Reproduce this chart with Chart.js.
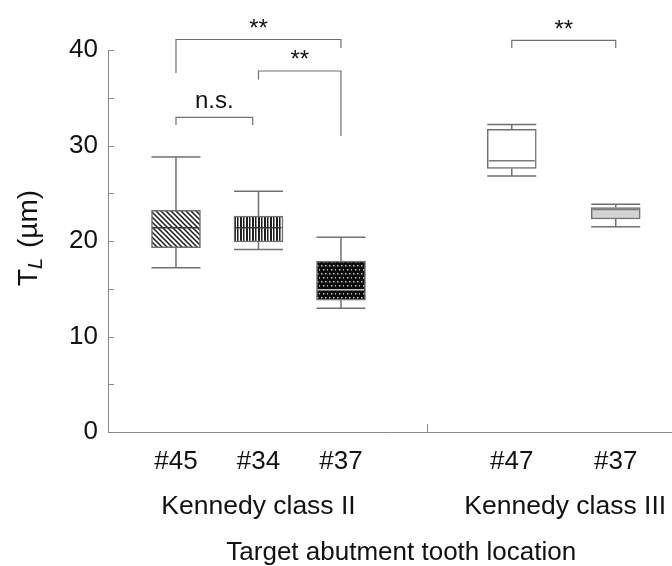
<!DOCTYPE html>
<html>
<head>
<meta charset="utf-8">
<script src="https://cdn.jsdelivr.net/npm/chart.js@4.4.1/dist/chart.umd.min.js"></script>
<style>
  html, body { margin: 0; padding: 0; background: #ffffff; }
  #wrap { width: 672px; height: 566px; }
</style>
</head>
<body>
<div id="wrap"><canvas id="chart" width="672" height="566"></canvas></div>
<script>
// Tooth locations and their place on the horizontal axis
const toothLabels    = ['#45', '#34', '#37', '#47', '#37'];
const toothPositions = [1, 2, 3, 5.07, 6.33];

// Box plot summary of T_L (µm) per tooth location
const whiskerLow  = [17.2, 19.1, 12.95, 26.8, 21.5];
const quartile1   = [19.3, 19.9, 13.8, 27.6, 22.3];
const medians     = [21.4, 21.4, 14.9, 28.4, 23.3];
const quartile3   = [23.2, 22.6, 17.9, 31.7, 23.5];
const whiskerHigh = [28.8, 25.2, 20.4, 32.2, 23.85];

// Kennedy classification groups
const groupNames   = ['Kennedy class II', 'Kennedy class III'];
const groupMembers = [[0, 1, 2], [3, 4]];
const groupDivider = 4.04;

// Significance brackets (x in axis units, y in µm)
const bracketFrom   = [1, 2, 1, 5.07];
const bracketTo     = [3, 3, 1.93, 6.33];
const bracketLevel  = [41.1, 37.8, 32.95, 41.0];
const bracketEndL   = [37.6, 36.9, 32.15, 40.2];
const bracketEndR   = [40.2, 31.0, 32.15, 40.2];
const bracketText   = ['**', '**', 'n.s.', '**'];
const bracketTextY  = [41.45, 38.2, 33.96, 41.35];

const axisTitleX = 'Target abutment tooth location';
const axisTitleXPos = 3.73;

const FONT = "'Liberation Sans', Arial, Helvetica, sans-serif";
Chart.defaults.font.family = FONT;
Chart.defaults.color = '#111111';

const canvas = document.getElementById('chart');
const baseCtx = canvas.getContext('2d');

function makePattern(w, h, paint) {
  const c = document.createElement('canvas');
  c.width = w; c.height = h;
  const g = c.getContext('2d');
  paint(g, w, h);
  return baseCtx.createPattern(c, 'repeat');
}

// Box fills
const hatchDiagonal = makePattern(5, 5, (g, w, h) => {
  g.fillStyle = '#ffffff'; g.fillRect(0, 0, w, h);
  g.strokeStyle = '#1a1a1a'; g.lineWidth = 1.5;
  g.beginPath();
  g.moveTo(-1, -1); g.lineTo(6, 6);
  g.moveTo(4, -1); g.lineTo(6, 1);
  g.moveTo(-1, 4); g.lineTo(1, 6);
  g.stroke();
});
const hatchVertical = makePattern(6, 2, (g, w, h) => {
  g.fillStyle = '#ffffff'; g.fillRect(0, 0, w, h);
  g.fillStyle = '#1e1e1e';
  g.fillRect(0, 0, 2, h);
  g.fillRect(3, 0, 1, h);
  g.fillStyle = '#8a8a8a';
  g.fillRect(4, 0, 1, h);
});
const dotted = makePattern(8, 8, (g, w, h) => {
  g.fillStyle = '#0c0c0c'; g.fillRect(0, 0, w, h);
  g.fillStyle = '#c8c8c8';
  [[1, 1], [5, 1], [3, 5], [7, 5]].forEach(([px, py]) => g.fillRect(px, py, 1.5, 1.5));
});
const boxFills = [hatchDiagonal, hatchVertical, dotted, '#ffffff', '#d3d3d3'];
const medianColors = ['#3a3a3a', '#3a3a3a', '#bdbdbd', '#7a7a7a', '#7a7a7a'];
const lineGray = '#707070';

function px(scale, v) { return scale.getPixelForValue(v); }

const boxPlotDecor = {
  id: 'boxPlotDecor',
  afterDatasetsDraw(chart) {
    const { ctx, scales: { x, y } } = chart;
    const meta = chart.getDatasetMeta(0);
    ctx.save();
    ctx.strokeStyle = lineGray;
    ctx.lineWidth = 1.5;
    meta.data.forEach((bar, i) => {
      const { x: cx, width } = bar.getProps(['x', 'width'], true);
      const half = width / 2;
      const yHi = px(y, whiskerHigh[i]), yQ3 = px(y, quartile3[i]);
      const yLo = px(y, whiskerLow[i]), yQ1 = px(y, quartile1[i]);
      ctx.beginPath();
      ctx.moveTo(cx, yQ3); ctx.lineTo(cx, yHi);
      ctx.moveTo(cx - half, yHi); ctx.lineTo(cx + half, yHi);
      ctx.moveTo(cx, yQ1); ctx.lineTo(cx, yLo);
      ctx.moveTo(cx - half, yLo); ctx.lineTo(cx + half, yLo);
      ctx.stroke();
      const yMed = px(y, medians[i]);
      ctx.save();
      ctx.strokeStyle = medianColors[i];
      ctx.beginPath();
      ctx.moveTo(cx - half + 1.5, yMed); ctx.lineTo(cx + half - 1.5, yMed);
      ctx.stroke();
      ctx.restore();
    });
    ctx.restore();
  },
  afterDraw(chart) {
    const { ctx, chartArea, scales: { x, y } } = chart;
    ctx.save();
    // inward tick marks on the value axis
    ctx.strokeStyle = '#8a8a8a';
    ctx.lineWidth = 1;
    ctx.beginPath();
    for (let v = 5; v <= 40; v += 5) {
      const py = Math.round(px(y, v)) + 0.5;
      ctx.moveTo(chartArea.left, py); ctx.lineTo(chartArea.left + 6, py);
    }
    const dx = Math.round(px(x, groupDivider)) + 0.5;
    ctx.moveTo(dx, chartArea.bottom); ctx.lineTo(dx, chartArea.bottom - 8);
    ctx.stroke();

    // significance brackets
    ctx.strokeStyle = '#707070';
    ctx.lineWidth = 1.2;
    ctx.fillStyle = '#111111';
    ctx.textAlign = 'center';
    ctx.textBaseline = 'alphabetic';
    bracketText.forEach((t, i) => {
      const x1 = px(x, bracketFrom[i]), x2 = px(x, bracketTo[i]);
      const yl = px(y, bracketLevel[i]);
      ctx.beginPath();
      ctx.moveTo(x1, px(y, bracketEndL[i])); ctx.lineTo(x1, yl);
      ctx.lineTo(x2, yl); ctx.lineTo(x2, px(y, bracketEndR[i]));
      ctx.stroke();
      ctx.font = (t === 'n.s.' ? '24px ' : '24px ') + FONT;
      ctx.fillText(t, (x1 + x2) / 2, px(y, bracketTextY[i]));
    });

    // group names under the tooth labels
    ctx.font = '26.5px ' + FONT;
    ctx.textBaseline = 'alphabetic';
    groupNames.forEach((name, g) => {
      const idx = groupMembers[g];
      const cx = (px(x, toothPositions[idx[0]]) + px(x, toothPositions[idx[idx.length - 1]])) / 2;
      ctx.fillText(name, cx + 1.5 * g, 514);
    });

    // horizontal axis title
    ctx.font = '26px ' + FONT;
    ctx.fillText(axisTitleX, px(x, axisTitleXPos), 560);

    // vertical axis title: T with italic subscript L, then (µm)
    ctx.translate(37, 238);
    ctx.rotate(-Math.PI / 2);
    const partT = 'T', partL = 'L', partU = ' (\u00b5m)';
    ctx.font = '28px ' + FONT;
    const wT = ctx.measureText(partT).width;
    const wU = ctx.measureText(partU).width;
    ctx.font = 'italic 20px ' + FONT;
    const wL = ctx.measureText(partL).width + 2;
    let start = -(wT + wL + wU) / 2;
    ctx.textAlign = 'left';
    ctx.font = '28px ' + FONT;
    ctx.fillText(partT, start, 0);
    ctx.font = 'italic 20px ' + FONT;
    ctx.fillText(partL, start + wT, 5);
    ctx.font = '28px ' + FONT;
    ctx.fillText(partU, start + wT + wL, 0);
    ctx.restore();
  }
};

new Chart(canvas, {
  type: 'bar',
  data: {
    datasets: [{
      data: toothPositions.map((p, i) => ({ x: p, y: [quartile1[i], quartile3[i]] })),
      backgroundColor: boxFills,
      borderColor: lineGray,
      borderWidth: 1.5,
      borderSkipped: false,
      barThickness: 49,
      grouped: false
    }]
  },
  options: {
    responsive: false,
    animation: false,
    devicePixelRatio: 1,
    layout: { padding: { top: 50, left: 0, right: 0, bottom: 0 } },
    plugins: { legend: { display: false }, tooltip: { enabled: false } },
    scales: {
      x: {
        type: 'linear',
        offset: false,
        min: 0.176,
        max: 7.012,
        grid: { display: false, drawTicks: false, offset: false },
        border: { display: true, color: '#8a8a8a', width: 1 },
        afterBuildTicks: (scale) => { scale.ticks = toothPositions.map(v => ({ value: v })); },
        afterFit: (scale) => { scale.height = 134; },
        ticks: {
          autoSkip: false,
          maxRotation: 0,
          padding: 14,
          font: { size: 26 },
          color: '#111111',
          callback: (value) => {
            const i = toothPositions.indexOf(value);
            return i >= 0 ? toothLabels[i] : '';
          }
        }
      },
      y: {
        min: 0,
        max: 40,
        grid: { display: false, drawTicks: false },
        border: { display: true, color: '#8a8a8a', width: 1 },
        afterFit: (scale) => { scale.width = 108; },
        ticks: { stepSize: 10, padding: 10, font: { size: 26 }, color: '#111111' }
      }
    }
  },
  plugins: [boxPlotDecor]
});
</script>
</body>
</html>
